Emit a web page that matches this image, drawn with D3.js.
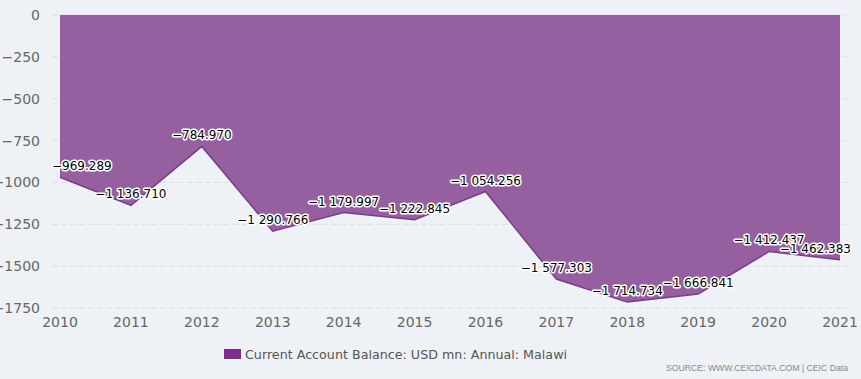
<!DOCTYPE html>
<html><head><meta charset="utf-8">
<script src="https://cdn.jsdelivr.net/npm/d3@7"></script>
<style>
html,body{margin:0;padding:0;background:#eef2f6;}
svg{display:block;font-family:"DejaVu Sans",Verdana,sans-serif;}
</style></head>
<body><svg id="c" width="861" height="379"></svg>
<script>
const years = [2010,2011,2012,2013,2014,2015,2016,2017,2018,2019,2020,2021];
const values = [-969.289,-1136.710,-784.970,-1290.766,-1179.997,-1222.845,-1054.256,-1577.303,-1714.734,-1666.841,-1412.437,-1462.383];
const yTicks = [0,-250,-500,-750,-1000,-1250,-1500,-1750];
const seriesName = "Current Account Balance: USD mn: Annual: Malawi";
const sourceText = "SOURCE: WWW.CEICDATA.COM | CEIC Data";

const svg = d3.select("#c");
svg.append("rect").attr("width",861).attr("height",379).attr("fill","#eef2f6");

const x = d3.scaleLinear().domain([2010,2021]).range([60,840]);
const y = d3.scaleLinear().domain([-1750,0]).range([308,15]);

const fmt = v => {
  const s = d3.format(",.3f")(Math.abs(v)).replace(/,/g," ");
  return (v<0?"\u2212":"")+s;
};
const fmtTick = v => (v<0?"\u2212":"")+Math.abs(v);

// gridlines
svg.append("g").selectAll("line").data(yTicks).join("line")
  .attr("x1",52).attr("x2",848)
  .attr("y1",d=>y(d)).attr("y2",d=>y(d))
  .attr("stroke","#dcdfe3").attr("stroke-width",1).attr("stroke-dasharray","6,3");

// y labels
svg.append("g").selectAll("text").data(yTicks).join("text")
  .attr("x",40).attr("y",d=>y(d)+5).attr("text-anchor","end")
  .attr("font-size",14).attr("fill","#666").text(fmtTick);

// x labels
svg.append("g").selectAll("text").data(years).join("text")
  .attr("x",d=>x(d)).attr("y",327).attr("text-anchor","middle")
  .attr("font-size",14).attr("fill","#666").text(d=>d);

const pts = years.map((yr,i)=>({yr,v:values[i]}));
const area = d3.area().x(d=>x(d.yr)).y0(y(0)).y1(d=>y(d.v));
const line = d3.line().x(d=>x(d.yr)).y(d=>y(d.v));
svg.append("path").datum(pts).attr("d",area).attr("fill","#965fa0");
svg.append("path").datum(pts).attr("d",line).attr("fill","none")
  .attr("stroke","#7d3a8c").attr("stroke-width",1.5);

// data labels
const lg = svg.append("g");
pts.forEach(d=>{
  const t = lg.append("text").attr("font-size",12).attr("fill","#000")
    .attr("stroke","#fff").attr("stroke-width",3).attr("stroke-linejoin","round")
    .attr("paint-order","stroke").attr("text-anchor","middle")
    .attr("x",x(d.yr)).attr("y",y(d.v)-7).text(fmt(d.v));
  const bb = t.node().getBBox();
  let cx = x(d.yr);
  if (bb.x < 52) cx += 52-bb.x;
  if (bb.x+bb.width > 851) cx -= (bb.x+bb.width-851);
  t.attr("x",cx);
});

// legend
svg.append("rect").attr("x",224).attr("y",349).attr("width",17).attr("height",10).attr("fill","#7b2e8b");
svg.append("text").attr("x",245).attr("y",359).attr("font-size",12.7).attr("fill","#555").text(seriesName);

// source
svg.append("text").attr("x",666).attr("y",371)
  .attr("font-size",9.5).attr("fill","#888").attr("textLength",182).attr("lengthAdjust","spacingAndGlyphs")
  .attr("font-family","'Liberation Sans',Arial,sans-serif").text(sourceText);
</script></body></html>
